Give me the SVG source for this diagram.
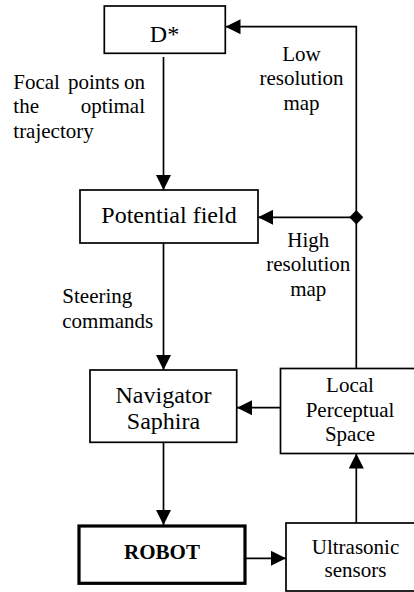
<svg xmlns="http://www.w3.org/2000/svg" width="414" height="592" viewBox="0 0 414 592">
  <style>
    .box { fill: #fff; stroke: #000; stroke-width: 1.7; }
    .bold-box { fill: #fff; stroke: #000; stroke-width: 3.2; }
    text { font-family: 'Liberation Serif', 'Times New Roman', Times, serif; fill: #000; }
    .node { font-size: 24px; text-anchor: middle; }
    .small { font-size: 21px; }
    .strong { font-weight: bold; }
    .label { font-size: 21px; }
    .mid { text-anchor: middle; }
    .end { text-anchor: end; }
    .wire { fill: none; stroke: #000; stroke-width: 1.7; }
  </style>
  <defs>
    <marker id="arrow" markerUnits="userSpaceOnUse" markerWidth="15" markerHeight="15" refX="15" refY="7.5" orient="auto">
      <path d="M0,0 L15,7.5 L0,15 Z" fill="#000"/>
    </marker>
  </defs>
  <rect width="414" height="592" fill="#fff"/>

  <!-- connectors -->
  <g id="connectors">
    <line class="wire" x1="163.5" y1="57" x2="163.5" y2="190" marker-end="url(#arrow)"/>
    <line class="wire" x1="163.5" y1="243" x2="163.5" y2="370" marker-end="url(#arrow)"/>
    <line class="wire" x1="163.5" y1="442" x2="163.5" y2="525" marker-end="url(#arrow)"/>
    <line class="wire" x1="245" y1="558.3" x2="286" y2="558.3" marker-end="url(#arrow)"/>
    <line class="wire" x1="356.3" y1="523" x2="356.3" y2="453.5" marker-end="url(#arrow)"/>
    <line class="wire" x1="280" y1="407.7" x2="237" y2="407.7" marker-end="url(#arrow)"/>
    <polyline class="wire" points="356.3,368.5 356.3,26.7 225.5,26.7" marker-end="url(#arrow)"/>
    <line class="wire" x1="356.3" y1="217.3" x2="258" y2="217.3" marker-end="url(#arrow)"/>
    <path d="M356.3,210 L363.3,217.3 L356.3,224.6 L349.3,217.3 Z" fill="#000"/>
  </g>

  <!-- nodes -->
  <g id="dstar">
    <rect class="box" x="104.3" y="6" width="121" height="47.3"/>
    <text class="node" x="164.5" y="42.3" font-family="Liberation Serif, serif">D*</text>
  </g>
  <g id="potential-field">
    <rect class="box" x="80" y="190" width="178" height="53"/>
    <text class="node" x="169" y="222.7">Potential field</text>
  </g>
  <g id="navigator">
    <rect class="box" x="90" y="370" width="146.7" height="72.3"/>
    <text class="node" x="163.5" y="403.3">Navigator</text>
    <text class="node" x="163.5" y="429.3">Saphira</text>
  </g>
  <g id="lps">
    <rect class="box" x="280.5" y="368.5" width="140" height="85"/>
    <text class="node small" x="350" y="392.3">Local</text>
    <text class="node small" x="350" y="416.7">Perceptual</text>
    <text class="node small" x="350" y="441">Space</text>
  </g>
  <g id="robot">
    <rect class="bold-box" x="79" y="526" width="166" height="57.3"/>
    <text class="node small strong" x="162" y="559">ROBOT</text>
  </g>
  <g id="ultrasonic">
    <rect class="box" x="286" y="523" width="140" height="68"/>
    <text class="node small" x="355.5" y="553.5">Ultrasonic</text>
    <text class="node small" x="355.5" y="577">sensors</text>
  </g>

  <!-- edge labels -->
  <g id="labels">
    <text class="label" x="13.3" y="88.5">Focal</text>
    <text class="label" x="68" y="88.5">points</text>
    <text class="label end" x="145" y="88.5">on</text>
    <text class="label" x="13.3" y="113">the</text>
    <text class="label end" x="145" y="113">optimal</text>
    <text class="label" x="13.3" y="137.5">trajectory</text>

    <text class="label mid" x="301.5" y="60.5">Low</text>
    <text class="label mid" x="301.5" y="85">resolution</text>
    <text class="label mid" x="301.5" y="109.5">map</text>

    <text class="label mid" x="308.3" y="246.7">High</text>
    <text class="label mid" x="308.3" y="271">resolution</text>
    <text class="label mid" x="308.3" y="295.5">map</text>

    <text class="label" x="62.3" y="303.3">Steering</text>
    <text class="label" x="62.3" y="327.5">commands</text>
  </g>
</svg>
